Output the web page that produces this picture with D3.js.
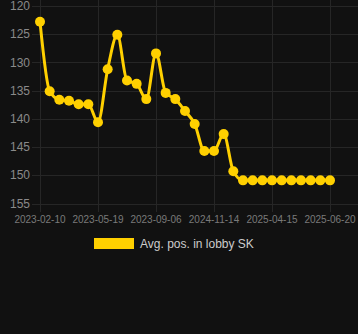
<!DOCTYPE html>
<html><head><meta charset="utf-8">
<script src="https://cdn.jsdelivr.net/npm/d3@7"></script>
<style>
html,body{margin:0;padding:0;background:#111111;}
svg{display:block;}
</style></head>
<body>
<script>
// Data
const seriesName = "Avg. pos. in lobby SK";
const values = [122.8,135.1,136.6,136.8,137.4,137.4,140.6,131.2,125.1,133.2,133.8,136.5,128.4,135.4,136.5,138.6,140.9,145.7,145.7,142.7,149.3,150.9,150.9,150.9,150.9,150.9,150.9,150.9,150.9,150.9,150.9];
const tickIndex = [0,6,12,18,24,30];
const tickLabels = ["2023-02-10","2023-05-19","2023-09-06","2024-11-14","2025-04-15","2025-06-20"];
const yTicks = [120,125,130,135,140,145,150,155];

const W = 358, H = 334;
const svg = d3.select("body").append("svg").attr("width", W).attr("height", H);
const idx = values.map((v,i)=>i);
const x = d3.scalePoint().domain(idx).range([40, 330]);
const y = d3.scaleLinear().domain([120,155]).range([6, 203.5]);
const grid = "#262626";

// horizontal grid
svg.append("g").selectAll("line").data(yTicks).join("line")
  .attr("x1", 32).attr("x2", W).attr("y1", d=>Math.round(y(d))+0.5).attr("y2", d=>Math.round(y(d))+0.5)
  .attr("stroke", grid).attr("stroke-width",1);
// vertical grid
svg.append("g").selectAll("line").data(tickIndex).join("line")
  .attr("x1", d=>Math.round(x(d))+0.5).attr("x2", d=>Math.round(x(d))+0.5)
  .attr("y1", 0).attr("y2", 212)
  .attr("stroke", grid).attr("stroke-width",1);

// y labels
svg.append("g").selectAll("text").data(yTicks).join("text")
  .attr("x", 30).attr("y", d=>y(d)).attr("dy","0.35em")
  .attr("text-anchor","end").attr("fill","#8a8a8a")
  .style("font-family","Arial, 'Liberation Sans', sans-serif").style("font-size","12px")
  .text(d=>d);
// x labels
svg.append("g").selectAll("text").data(tickIndex).join("text")
  .attr("x", d=>x(d)).attr("y", 223)
  .attr("text-anchor","middle").attr("fill","#7a7a7a")
  .style("font-family","Arial, 'Liberation Sans', sans-serif").style("font-size","10px")
  .text((d,i)=>tickLabels[i]);

const color = "#ffd000";
const line = d3.line().x((d,i)=>x(i)).y(d=>y(d)).curve(d3.curveMonotoneX);
svg.append("path").datum(values).attr("d", line)
  .attr("fill","none").attr("stroke",color).attr("stroke-width",3);
svg.append("g").selectAll("circle").data(values).join("circle")
  .attr("cx",(d,i)=>x(i)).attr("cy",d=>y(d)).attr("r",5).attr("fill",color);

// legend
svg.append("rect").attr("x",94).attr("y",238).attr("width",40).attr("height",11).attr("fill",color);
svg.append("text").attr("x",140).attr("y",248).attr("fill","#cccccc")
  .style("font-family","Arial, 'Liberation Sans', sans-serif").style("font-size","12px")
  .text(seriesName);
</script>
</body></html>
